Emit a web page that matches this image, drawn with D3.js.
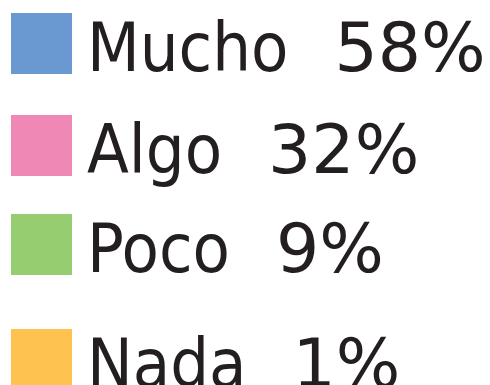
<!DOCTYPE html>
<html>
<head>
<meta charset="utf-8">
<script src="https://cdn.jsdelivr.net/npm/d3@7/dist/d3.min.js"></script>
<style>
  html, body { margin: 0; padding: 0; background: #ffffff; }
  svg { display: block; }
  text { fill: #231f20; }
  .label { font-family: "DejaVu Sans Condensed", "DejaVu Sans", sans-serif; font-stretch: condensed; }
  .value { font-family: "DejaVu Sans", sans-serif; }
</style>
</head>
<body>
<svg id="chart" width="490" height="385"></svg>
<script>
// Survey answers and their shares (%)
const categories = ["Mucho", "Algo", "Poco", "Nada"];
const values = [58, 32, 9, 1];
const colors = ["#6a98d0", "#f088b6", "#96cd70", "#fdc250"];

const svg = d3.select("#chart");
const fontSize = 68;

// Row placement for each legend entry
const y = d3.scaleOrdinal().domain(categories).range([13, 115, 214, 329]);
const color = d3.scaleOrdinal().domain(categories).range(colors);

const rows = svg.selectAll("g.row")
  .data(categories.map((c, i) => ({ cat: c, val: values[i] })))
  .join("g")
  .attr("class", "row")
  .attr("transform", d => `translate(0,${y(d.cat)})`);

rows.append("rect")
  .attr("x", 11)
  .attr("y", 0)
  .attr("width", 61)
  .attr("height", 61)
  .attr("fill", d => color(d.cat));

const labels = rows.append("text")
  .attr("class", "label")
  .attr("x", 87)
  .attr("y", 58)
  .attr("font-size", fontSize)
  .text(d => d.cat);

// Percentage placed a fixed gap after each label
labels.each(function(d) {
  const len = this.getComputedTextLength();
  d3.select(this.parentNode).append("text")
    .attr("class", "value")
    .attr("x", 87 + len + 46)
    .attr("y", 58)
    .attr("font-size", fontSize)
    .text(d.val + "%");
});
</script>
</body>
</html>
